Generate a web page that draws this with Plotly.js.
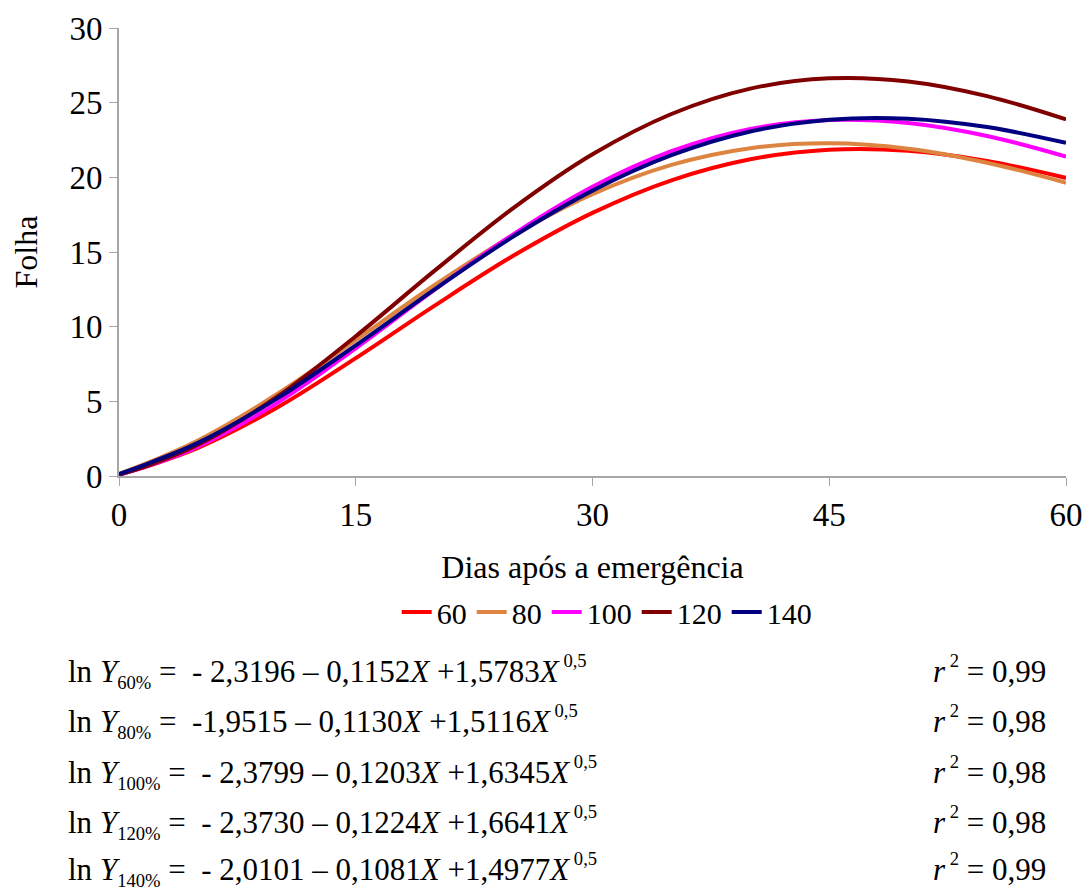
<!DOCTYPE html>
<html lang="pt">
<head>
<meta charset="utf-8">
<script src="https://cdn.plot.ly/plotly-3.0.1.min.js"></script>
<style>
html,body{margin:0;padding:0;background:#fff;}
#wrap{position:relative;width:1086px;height:892px;overflow:hidden;}
#chart{position:absolute;left:0;top:0;width:1086px;height:892px;}
#eqs{position:absolute;left:0;top:0;width:1086px;height:892px;pointer-events:none;
  font-family:"Liberation Serif","Times New Roman",serif;font-size:31px;color:#000;}
.row{position:absolute;height:40px;line-height:40px;white-space:pre;}
.row i{font-style:italic;}
.row sub{font-size:0.6em;vertical-align:-0.4em;line-height:0;}
.row sup{font-size:0.6em;vertical-align:0.8em;line-height:0;}
</style>
</head>
<body>
<div id="wrap">
<div id="chart"></div>
<div id="eqs"></div>
</div>
<script>
// Days after emergence
const days = [0, 2, 5, 10, 15, 20, 25, 30, 35, 40, 45, 50, 55, 60];
// Leaf values
const y60  = [0.10, 0.73, 1.88, 4.57, 7.89, 11.41, 14.76, 17.62, 19.80, 21.21, 21.85, 21.78, 21.10, 19.96];
const y80  = [0.14, 0.96, 2.37, 5.47, 9.10, 12.79, 16.14, 18.87, 20.83, 21.95, 22.28, 21.92, 20.98, 19.64];
const y100 = [0.09, 0.73, 1.96, 4.88, 8.55, 12.48, 16.20, 19.37, 21.75, 23.24, 23.84, 23.64, 22.77, 21.39];
const y120 = [0.09, 0.77, 2.09, 5.29, 9.36, 13.75, 17.95, 21.54, 24.24, 25.94, 26.63, 26.42, 25.44, 23.88];
const y140 = [0.13, 0.90, 2.22, 5.18, 8.75, 12.50, 16.05, 19.11, 21.48, 23.07, 23.86, 23.93, 23.37, 22.31];
const seriesNames = ["60", "80", "100", "120", "140"];
const seriesValues = [y60, y80, y100, y120, y140];
const seriesColors = ["#FF0000", "#DD8440", "#FF00FF", "#800000", "#000080"];
const xTicks = [0, 15, 30, 45, 60];
const yTicks = [0, 5, 10, 15, 20, 25, 30];
// Regression equations shown under the chart
const subs = ["60%", "80%", "100%", "120%", "140%"];
const intercepts = ["- 2,3196", "-1,9515", "- 2,3799", "- 2,3730", "- 2,0101"];
const linear = ["0,1152", "0,1130", "0,1203", "0,1224", "0,1081"];
const sqrtCoef = ["1,5783", "1,5116", "1,6345", "1,6641", "1,4977"];
const r2 = ["0,99", "0,98", "0,98", "0,98", "0,99"];

const font = "Liberation Serif";

// equations as HTML text
const eqCenters = [672, 722, 773, 823, 870];
const eqBox = document.getElementById("eqs");
subs.forEach((s, i) => {
  const left = document.createElement("div");
  left.className = "row";
  left.style.left = "68px";
  left.style.top = (eqCenters[i] - 20) + "px";
  left.innerHTML = "ln <i>Y</i><sub>" + s + "</sub> =  " + intercepts[i] + " \u2013 " + linear[i] +
    "<i>X</i> +" + sqrtCoef[i] + "<i>X</i><sup> 0,5</sup>";
  eqBox.appendChild(left);
  const right = document.createElement("div");
  right.className = "row";
  right.style.left = "933px";
  right.style.top = (eqCenters[i] - 20) + "px";
  right.innerHTML = "<i>r</i><sup> 2</sup> = " + r2[i];
  eqBox.appendChild(right);
});

const traces = seriesNames.map((n, i) => ({
  x: days, y: seriesValues[i], name: n, type: "scatter", mode: "lines",
  line: {color: seriesColors[i], width: 4, shape: "spline", smoothing: 1}
}));

const H = 892, T = 28, B = 416; const plotH = H - T - B;
const py = p => (476 - p) / plotH;

const layout = {
  width: 1086, height: 892,
  margin: {l: 119, r: 20, t: T, b: B},
  font: {family: font, size: 30, color: "#000"},
  showlegend: true,
  legend: {orientation: "h", x: 0.515, xanchor: "center", y: py(612), yanchor: "middle"},
  xaxis: {range: [0, 60], tickvals: xTicks, ticks: "outside", ticklen: 8, tickcolor: "#A6A6A6",
    showline: true, linecolor: "#A6A6A6", linewidth: 2, showgrid: false, zeroline: false,
    tickfont: {family: font, size: 33, color: "#000"},
    title: {text: "Dias após a emergência", font: {family: font, size: 32, color: "#000"}, standoff: 24}},
  yaxis: {range: [0, 30], tickvals: yTicks, ticks: "outside", ticklen: 8, tickcolor: "#A6A6A6",
    showline: true, linecolor: "#A6A6A6", linewidth: 2, showgrid: false, zeroline: false,
    tickfont: {family: font, size: 33, color: "#000"},
    title: {text: "Folha", font: {family: font, size: 32, color: "#000"}, standoff: 22}}
};
Plotly.newPlot("chart", traces, layout, {displayModeBar: false});
</script>
</body>
</html>
